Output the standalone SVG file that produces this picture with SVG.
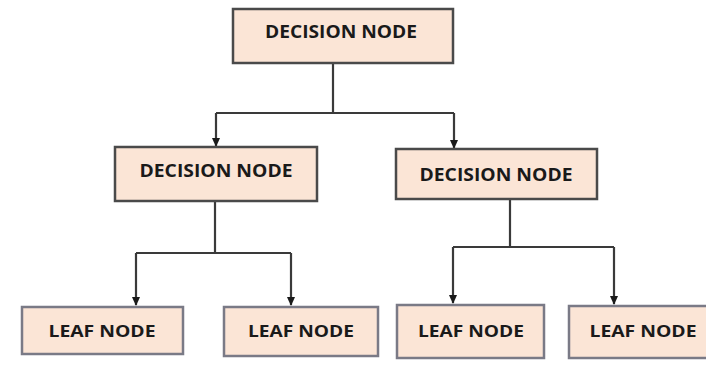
<svg xmlns="http://www.w3.org/2000/svg" width="706" height="378" viewBox="0 0 706 378">
<style>
.dec rect{fill:#fbe5d6;stroke:#4a4a4a;stroke-width:2.5}
.leaf rect{fill:#fbe5d6;stroke:#7a7a86;stroke-width:2.5}
text{font-family:"Open Sans","Liberation Sans",sans-serif;font-weight:bold;fill:#1a1a1a;text-anchor:middle}
.d{font-size:17px}
.l{font-size:16px}
.conn{fill:none;stroke:#3a3a3a;stroke-width:2.2}
</style>
<defs>
<marker id="ah" markerWidth="10" markerHeight="10" refX="8" refY="5" orient="auto" markerUnits="userSpaceOnUse" viewBox="0 0 10 10">
<path d="M0,1 L9,5 L0,9 Z" fill="#1a1a1a"/>
</marker>
</defs>
<rect width="706" height="378" fill="#ffffff"/>
<g id="connectors">
<path class="conn" d="M333,63 V113"/>
<path class="conn" d="M216,113 H454"/>
<path class="conn" d="M216,113 V146" marker-end="url(#ah)"/>
<path class="conn" d="M454,113 V148" marker-end="url(#ah)"/>
<path class="conn" d="M215,201 V253"/>
<path class="conn" d="M136,253 H291"/>
<path class="conn" d="M136,253 V305" marker-end="url(#ah)"/>
<path class="conn" d="M291,253 V305" marker-end="url(#ah)"/>
<path class="conn" d="M510,199 V247"/>
<path class="conn" d="M453,247 H614"/>
<path class="conn" d="M453,247 V303" marker-end="url(#ah)"/>
<path class="conn" d="M614,247 V304" marker-end="url(#ah)"/>
</g>
<g id="root" class="dec">
<rect x="233" y="9" width="220" height="54"/>
<text class="d" x="341" y="38" textLength="152" lengthAdjust="spacingAndGlyphs">DECISION NODE</text>
</g>
<g id="decision-left" class="dec">
<rect x="115" y="147" width="202" height="54"/>
<text class="d" x="216" y="177" textLength="153" lengthAdjust="spacingAndGlyphs">DECISION NODE</text>
</g>
<g id="decision-right" class="dec">
<rect x="396" y="149" width="201" height="50"/>
<text class="d" x="496" y="181" textLength="153" lengthAdjust="spacingAndGlyphs">DECISION NODE</text>
</g>
<g id="leaf-1" class="leaf">
<rect x="22" y="307" width="161" height="47"/>
<text class="l" x="102" y="337" textLength="107" lengthAdjust="spacingAndGlyphs">LEAF NODE</text>
</g>
<g id="leaf-2" class="leaf">
<rect x="224" y="307" width="154" height="49"/>
<text class="l" x="301" y="337" textLength="106" lengthAdjust="spacingAndGlyphs">LEAF NODE</text>
</g>
<g id="leaf-3" class="leaf">
<rect x="397" y="305" width="147" height="53"/>
<text class="l" x="471" y="337" textLength="106" lengthAdjust="spacingAndGlyphs">LEAF NODE</text>
</g>
<g id="leaf-4" class="leaf">
<rect x="569" y="306" width="145" height="52"/>
<text class="l" x="643" y="337" textLength="107" lengthAdjust="spacingAndGlyphs">LEAF NODE</text>
</g>
</svg>
